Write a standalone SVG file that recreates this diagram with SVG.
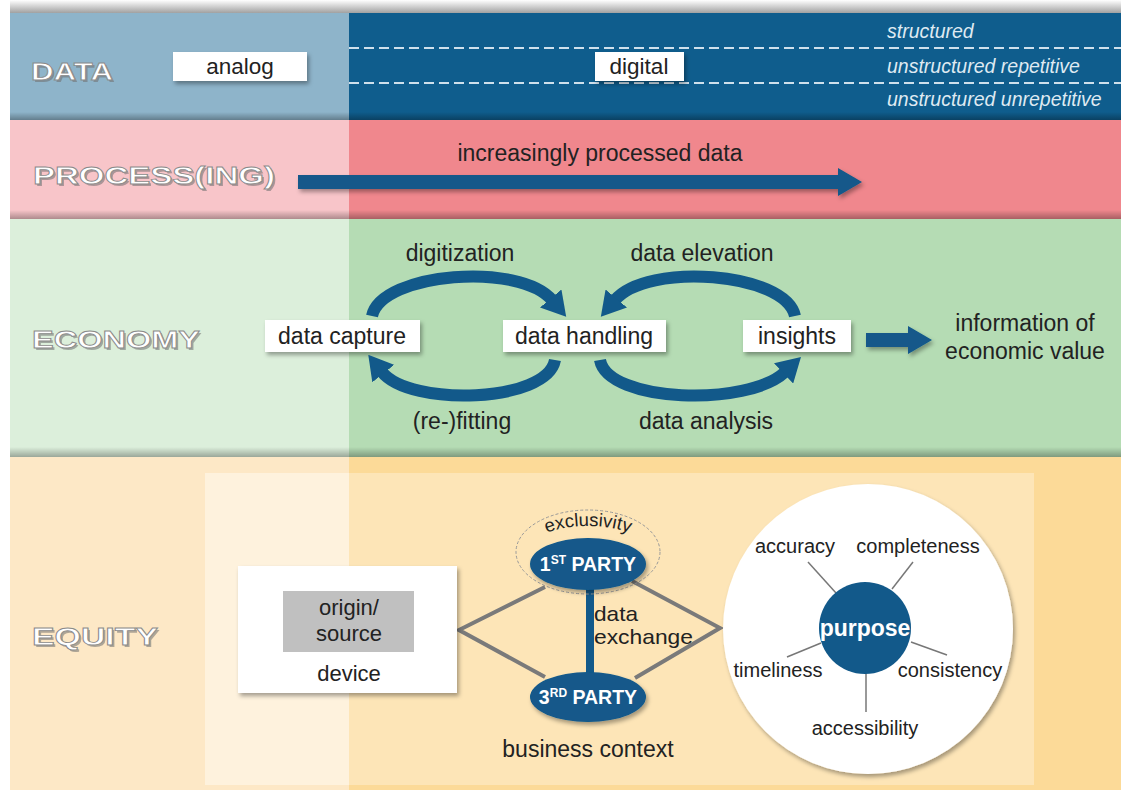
<svg xmlns="http://www.w3.org/2000/svg" width="1121" height="790" viewBox="0 0 1121 790">
<defs>
<style>
.t{font-family:"Liberation Sans",Arial,sans-serif;fill:#222;}
.lbl{font-family:"Liberation Sans",Arial,sans-serif;font-weight:bold;fill:#fff;stroke:#8a8a8a;stroke-width:0.8;font-size:24px;}
.lblsh{font-family:"Liberation Sans",Arial,sans-serif;font-weight:bold;fill:#6f6f6f;font-size:24px;opacity:0.55;}
.it{font-family:"Liberation Sans",Arial,sans-serif;font-style:italic;fill:#dfeaf2;font-size:19.5px;}
.box{fill:#fff;filter:url(#sh);}
.arc{fill:none;stroke:#12598a;stroke-width:12;marker-end:url(#ah);}
.gl{stroke:#7a7a7a;stroke-width:4;fill:none;}
.sp{stroke:#777;stroke-width:1.5;}
.party{fill:#12598a;filter:url(#sh);}
.pt{font-family:"Liberation Sans",Arial,sans-serif;font-weight:bold;fill:#fff;}
</style>
<filter id="sh" x="-20%" y="-20%" width="140%" height="150%">
<feDropShadow dx="2" dy="3" stdDeviation="2" flood-color="#000" flood-opacity="0.35"/>
</filter>
<linearGradient id="topsh" x1="0" y1="0" x2="0" y2="1">
<stop offset="0" stop-color="#fff"/><stop offset="1" stop-color="#9a9a9a"/>
</linearGradient>
<linearGradient id="bsh" x1="0" y1="0" x2="0" y2="1">
<stop offset="0" stop-color="#000" stop-opacity="0"/><stop offset="1" stop-color="#000" stop-opacity="0.3"/>
</linearGradient>
<marker id="ah" viewBox="0 0 24 28" refX="2" refY="14" markerWidth="24" markerHeight="28" markerUnits="userSpaceOnUse" orient="auto">
<path d="M0,0 L24,14 L0,28 Z" fill="#12598a"/>
</marker>
</defs>

<g id="background">
<rect x="0" y="0" width="1121" height="790" fill="#fff"/>
<rect x="10" y="0" width="1111" height="14" fill="url(#topsh)"/>
<rect x="10" y="13" width="339" height="107" fill="#8eb4ca"/>
<rect x="349" y="13" width="772" height="107" fill="#0f5d8d"/>
<rect x="10" y="112" width="1111" height="8" fill="url(#bsh)"/>
<rect x="10" y="120" width="339" height="99" fill="#f8c5c9"/>
<rect x="349" y="120" width="772" height="99" fill="#f0878d"/>
<rect x="10" y="210" width="1111" height="9" fill="url(#bsh)"/>
<rect x="10" y="219" width="339" height="238" fill="#dcefdb"/>
<rect x="349" y="219" width="772" height="238" fill="#b5dcb4"/>
<rect x="10" y="447" width="1111" height="10" fill="url(#bsh)"/>
<rect x="10" y="457" width="339" height="333" fill="#fde8c6"/>
<rect x="349" y="457" width="772" height="333" fill="#fcda98"/>
<rect x="205" y="473" width="144" height="312" fill="#fef2dd"/>
<rect x="349" y="473" width="685" height="312" fill="#fde5b7"/>
</g>

<g id="row-labels">
<text class="lblsh" x="33" y="82" textLength="82" lengthAdjust="spacingAndGlyphs">DATA</text>
<text class="lbl" x="31" y="80" textLength="82" lengthAdjust="spacingAndGlyphs">DATA</text>
<text class="lblsh" x="35" y="186" textLength="242" lengthAdjust="spacingAndGlyphs">PROCESS(ING)</text>
<text class="lbl" x="33" y="184" textLength="242" lengthAdjust="spacingAndGlyphs">PROCESS(ING)</text>
<text class="lblsh" x="34" y="350" textLength="168" lengthAdjust="spacingAndGlyphs">ECONOMY</text>
<text class="lbl" x="32" y="348" textLength="168" lengthAdjust="spacingAndGlyphs">ECONOMY</text>
<text class="lblsh" x="34" y="647" textLength="126" lengthAdjust="spacingAndGlyphs">EQUITY</text>
<text class="lbl" x="32" y="645" textLength="126" lengthAdjust="spacingAndGlyphs">EQUITY</text>
</g>

<g id="data-row">
<line x1="349" y1="48" x2="1121" y2="48" stroke="#cfe0ec" stroke-width="2" stroke-dasharray="10,5"/>
<line x1="349" y1="83" x2="1121" y2="83" stroke="#cfe0ec" stroke-width="2" stroke-dasharray="10,5"/>
<g id="analog"><rect class="box" x="173" y="52" width="134" height="29"/><text class="t" x="240" y="74" font-size="22.5" text-anchor="middle">analog</text></g>
<g id="digital"><rect class="box" x="595" y="52" width="89" height="29"/><text class="t" x="639" y="74" font-size="22.5" text-anchor="middle">digital</text></g>
<text class="it" x="887" y="38">structured</text>
<text class="it" x="887" y="73">unstructured repetitive</text>
<text class="it" x="887" y="106">unstructured unrepetitive</text>
</g>

<g id="process-row">
<text class="t" x="600" y="161" font-size="23" text-anchor="middle">increasingly processed data</text>
</g>

<g id="economy-nodes">
<g id="data-capture"><rect class="box" x="265" y="320" width="155" height="32"/><text class="t" x="342" y="344" font-size="23" text-anchor="middle">data capture</text></g>
<g id="data-handling"><rect class="box" x="503" y="320" width="163" height="32"/><text class="t" x="584" y="344" font-size="23" text-anchor="middle">data handling</text></g>
<g id="insights"><rect class="box" x="743" y="320" width="108" height="32"/><text class="t" x="797" y="344" font-size="23" text-anchor="middle">insights</text></g>
<g id="info-value">
<text class="t" x="1025" y="331" font-size="23" text-anchor="middle">information of</text>
<text class="t" x="1025" y="359" font-size="23" text-anchor="middle">economic value</text>
</g>
<text class="t" x="460" y="261" font-size="23" text-anchor="middle">digitization</text>
<text class="t" x="702" y="261" font-size="23" text-anchor="middle">data elevation</text>
<text class="t" x="462" y="429" font-size="23" text-anchor="middle">(re-)fitting</text>
<text class="t" x="706" y="429" font-size="23" text-anchor="middle">data analysis</text>
</g>

<g id="connectors">
<polygon points="298,175 838,175 838,168 862,182 838,196 838,189 298,189" fill="#12598a" filter="url(#sh)"/>
<path class="arc" d="M372,316 C382,272 520,262 552,300"/>
<path class="arc" d="M795,316 C785,272 647,262 615,300"/>
<path class="arc" d="M555,360 C547,403 410,407 382,372"/>
<path class="arc" d="M600,360 C608,403 748,407 785,372"/>
<polygon points="866,333 908,333 908,326 932,340 908,354 908,347 866,347" fill="#12598a" filter="url(#sh)"/>
<polyline class="gl" points="545,587 459,630 545,677"/>
<polyline class="gl" points="632,581 720,628 635,678"/>
<line x1="590" y1="588" x2="590" y2="676" stroke="#12598a" stroke-width="8"/>
</g>

<g id="device">
<rect class="box" x="238" y="566" width="219" height="127"/>
<rect x="283" y="591" width="131" height="61" fill="#c0c0c0"/>
<text class="t" x="349" y="615" font-size="22" text-anchor="middle">origin/</text>
<text class="t" x="349" y="641" font-size="22" text-anchor="middle">source</text>
<text class="t" x="349" y="681" font-size="22" text-anchor="middle">device</text>
</g>

<g id="first-party">
<ellipse cx="588" cy="552" rx="72" ry="42" fill="none" stroke="#999" stroke-width="1" stroke-dasharray="3,2"/>
<path id="exarc" d="M526,553 A62,27 0 0,1 650,553" fill="none"/>
<text class="t" font-size="18.5"><textPath href="#exarc" startOffset="50%" text-anchor="middle">exclusivity</textPath></text>
<ellipse class="party" cx="588" cy="564" rx="58" ry="26"/>
<text class="pt" x="588" y="571" font-size="19.5" text-anchor="middle">1<tspan font-size="12" dy="-7">ST</tspan><tspan dy="7"> PARTY</tspan></text>
</g>

<g id="third-party">
<ellipse class="party" cx="588" cy="697" rx="58" ry="25"/>
<text class="pt" x="588" y="704" font-size="19.5" text-anchor="middle">3<tspan font-size="12" dy="-7">RD</tspan><tspan dy="7"> PARTY</tspan></text>
</g>

<g id="exchange-labels">
<text class="t" x="594" y="621" font-size="21" textLength="44" lengthAdjust="spacingAndGlyphs">data</text>
<text class="t" x="594" y="644" font-size="21" textLength="99" lengthAdjust="spacingAndGlyphs">exchange</text>
<text class="t" x="588" y="757" font-size="23" text-anchor="middle">business context</text>
</g>

<g id="purpose">
<circle cx="868" cy="629" r="145" fill="#fff" filter="url(#sh)"/>
<line class="sp" x1="808" y1="562" x2="836" y2="593"/>
<line class="sp" x1="913" y1="562" x2="892" y2="589"/>
<line class="sp" x1="787" y1="657" x2="821" y2="643"/>
<line class="sp" x1="911" y1="642" x2="947" y2="655"/>
<line class="sp" x1="866" y1="672" x2="866" y2="712"/>
<circle cx="865" cy="628" r="46" fill="#12598a"/>
<text class="pt" x="865" y="636" font-size="23" text-anchor="middle">purpose</text>
<text class="t" x="795" y="553" font-size="20" text-anchor="middle">accuracy</text>
<text class="t" x="918" y="553" font-size="20" text-anchor="middle">completeness</text>
<text class="t" x="778" y="677" font-size="20" text-anchor="middle">timeliness</text>
<text class="t" x="950" y="677" font-size="20" text-anchor="middle">consistency</text>
<text class="t" x="865" y="735" font-size="20" text-anchor="middle">accessibility</text>
</g>
</svg>
